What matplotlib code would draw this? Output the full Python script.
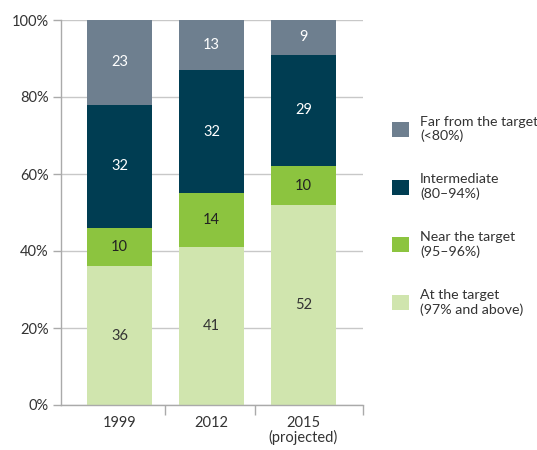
import matplotlib

matplotlib.use("Agg")
import matplotlib.pyplot as plt
import numpy as np
from matplotlib.patches import Patch

plt.rcParams["font.family"] = ["Lato", "DejaVu Sans"]

years = ["1999", "2012", "2015\n(projected)"]
series = [
    "At the target\n(97% and above)",
    "Near the target\n(95\u201396%)",
    "Intermediate\n(80\u201394%)",
    "Far from the target\n(<80%)",
]
at_target = [36, 41, 52]
near_target = [10, 14, 10]
intermediate = [32, 32, 29]
far_target = [23, 13, 9]
values = [at_target, near_target, intermediate, far_target]

colors = ["#d0e5ae", "#8cc43f", "#003d52", "#6e7f8f"]
label_colors = ["#333333", "#222222", "white", "white"]

fig = plt.figure(figsize=(5.37, 4.5), dpi=100)
ax = fig.add_axes([61 / 537, 45 / 450, (363 - 61) / 537, 385 / 450])

x = np.arange(len(years))
bottom = np.zeros(len(years))
for vals, color, tcolor in zip(values, colors, label_colors):
    vals = np.array(vals, dtype=float)
    ax.bar(x, vals, bottom=bottom, width=0.71, color=color, zorder=2)
    for xi, b, v in zip(x, bottom, vals):
        top = min(b + v, 100)
        ax.text(xi, (b + top) / 2, f"{int(v)}", ha="center", va="center",
                color=tcolor, fontsize=10.5, zorder=3)
    bottom += vals

ax.set_ylim(0, 100)
ax.set_xlim(-0.636, 2.647)
ax.set_yticks(range(0, 101, 20))
ax.set_yticklabels([f"{t}%" for t in range(0, 101, 20)], fontsize=10.5, color="#333333")
ax.yaxis.grid(True, color="#c8c8c8", linewidth=1, zorder=0)
ax.tick_params(axis="y", length=6, color="#aaaaaa", width=1, pad=3)

ax.set_xticks(x)
ax.set_xticklabels(years, fontsize=10.5, color="#333333", linespacing=1.0)
ax.tick_params(axis="x", length=0, pad=8)
ax.set_xticks([0.5, 1.47, 2.647], minor=True)
ax.tick_params(axis="x", which="minor", length=7, color="#aaaaaa", width=1, direction="out")

for side in ["top", "right"]:
    ax.spines[side].set_visible(False)
for side in ["left", "bottom"]:
    ax.spines[side].set_color("#aaaaaa")
    ax.spines[side].set_linewidth(1)
    ax.spines[side].set_zorder(4)

handles = [Patch(facecolor=c, edgecolor="none") for c in colors[::-1]]
fig.legend(handles, series[::-1], loc="upper left", bbox_to_anchor=(386 / 537, 1 - 110 / 450),
           frameon=False, fontsize=10.2, labelspacing=2.2, handlelength=1.25,
           handleheight=1.25, handletextpad=0.75, labelcolor="#333333", borderaxespad=0)

fig.savefig("out.png", dpi=100)
plt.close(fig)
